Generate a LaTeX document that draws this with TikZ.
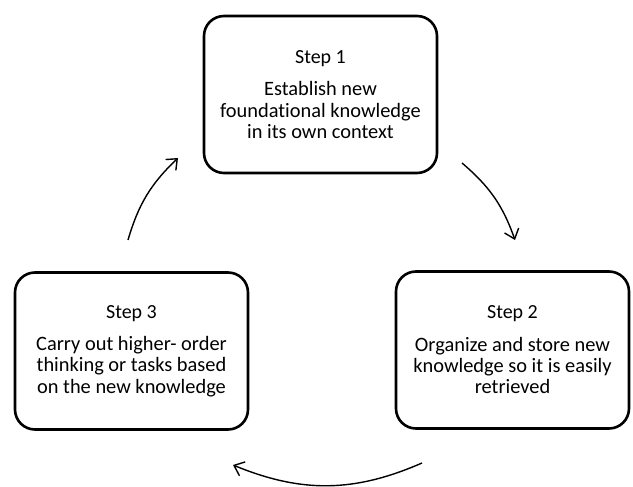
\documentclass[tikz,border=0pt]{standalone}
\usepackage{fontspec}
\setmainfont{Carlito}[Ligatures={NoCommon}]
\usepackage{tikz}
\usetikzlibrary{arrows.meta}
\tikzstyle{stepbox}=[draw, line width=2.6pt, rounded corners=20pt, minimum width=233pt, minimum height=157pt, align=center, font=\fontsize{20.4}{21.3}\selectfont]
\tikzstyle{cyclearrow}=[line width=1.4pt, -{Straight Barb[length=9pt,width=15pt,line width=1.4pt]}]
\newcommand{\steptitle}[1]{{\fontsize{20}{21.3}\selectfont #1}\\[11pt]}

\begin{document}
\begin{tikzpicture}[x=1pt,y=-1pt]
	\useasboundingbox (0,0) rectangle (633,487);
	\node[stepbox] (s1) at (320.5,94.5) {\steptitle{Step 1}Establish new\\ foundational knowledge\\ in its own context};
	\node[stepbox] (s2) at (512.5,350) {\steptitle{Step 2}Organize and store new\\ knowledge so it is easily\\ retrieved};
	\node[stepbox] (s3) at (131.5,351) {\steptitle{Step 3}Carry out higher- order\\ thinking or tasks based\\ on the new knowledge};
	% ends of the arrows
	\coordinate (a1) at (128,240);
	\coordinate (b1) at (178,158);
	\coordinate (a2) at (462,163);
	\coordinate (b2) at (515,240);
	\coordinate (a3) at (422,463);
	\coordinate (b3) at (233,465);
	\draw[cyclearrow] (a1) to[bend left=15] (b1);
	\draw[cyclearrow] (a2) to[bend left=15] (b2);
	\draw[cyclearrow] (a3) to[bend left=23] (b3);
\end{tikzpicture}
\end{document}
